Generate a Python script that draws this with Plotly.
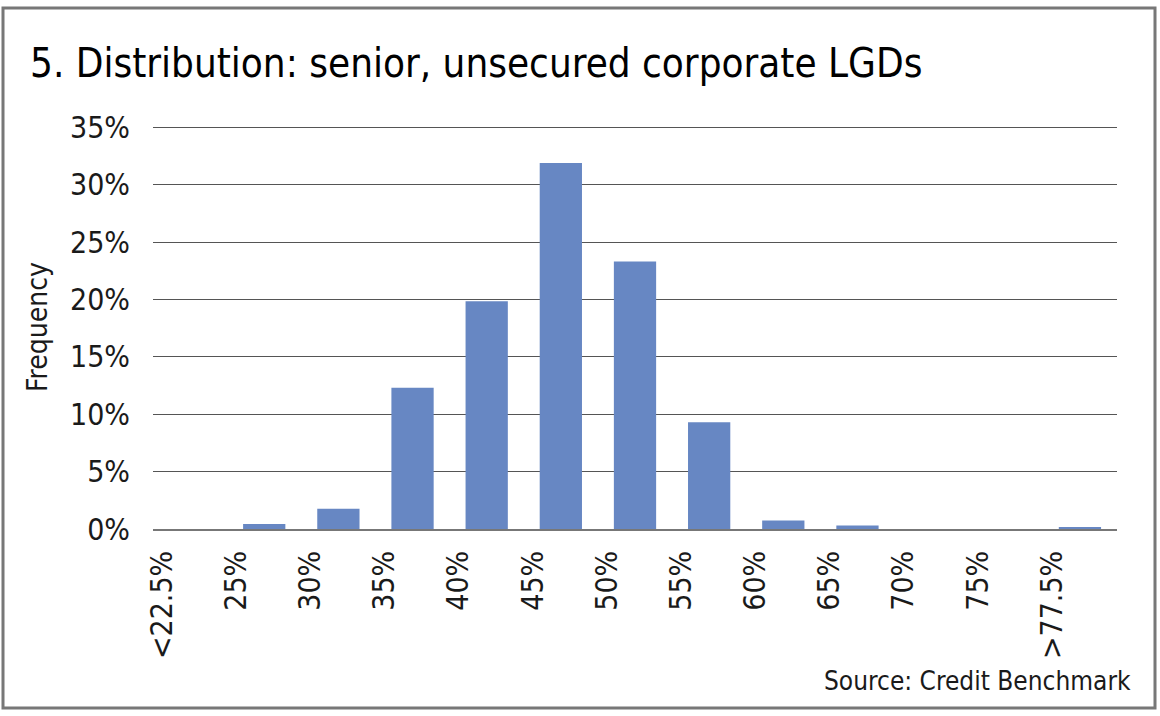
import plotly.graph_objects as go

categories = ["<22.5%", "25%", "30%", "35%", "40%", "45%", "50%",
              "55%", "60%", "65%", "70%", "75%", ">77.5%"]
frequency = [0.0, 0.44, 1.77, 12.3, 19.85, 31.9, 23.3, 9.3, 0.75, 0.3, 0.0, 0.0, 0.15]
y_ticks = [0, 5, 10, 15, 20, 25, 30, 35]
y_tick_labels = [f"{v}%" for v in y_ticks]

FONT = "Liberation Sans Narrow, DejaVu Sans Condensed, Arial Narrow, sans-serif"
TXT = "#1a1a1a"

fig = go.Figure(go.Bar(
    x=categories, y=frequency,
    marker=dict(color="#6787C3", line=dict(width=0)),
    hoverinfo="x+y",
))

W, H = 1160, 716
L, R, T, B = 153, 43, 125, 187
pw, ph = W - L - R, H - T - B

fig.update_layout(
    width=W, height=H,
    margin=dict(l=L, r=R, t=T, b=B),
    paper_bgcolor="white", plot_bgcolor="white",
    bargap=0.43,
    showlegend=False,
    font=dict(family=FONT, color=TXT, size=30),
    title=dict(text="5. Distribution: senior, unsecured corporate LGDs",
               x=30 / W, xanchor="left", xref="container",
               y=1 - 63 / H, yanchor="middle", yref="container",
               font=dict(family=FONT, size=40, color="#000")),
    xaxis=dict(
        type="category", tickangle=-90, showgrid=False,
        showline=True, linecolor="#777", linewidth=1.5,
        ticks="", ticklabelstandoff=8, ticklabelshift=-28,
        tickfont=dict(family=FONT, size=30, color=TXT),
    ),
    yaxis=dict(
        range=[0, 35.2], tickvals=y_ticks, ticktext=y_tick_labels,
        showgrid=True, gridcolor="#555", gridwidth=1,
        zeroline=False, showline=False, ticks="",
        ticklabelstandoff=22,
        tickfont=dict(family=FONT, size=30, color=TXT),
        title=dict(text="Frequency", standoff=14,
                   font=dict(family=FONT, size=28, color=TXT)),
    ),
    annotations=[dict(
        text="Source: Credit Benchmark", showarrow=False,
        xref="paper", yref="paper",
        x=(1133 - L) / pw, xanchor="right",
        y=(H - B - 681) / ph, yanchor="middle",
        font=dict(family=FONT, size=26, color=TXT),
    )],
    shapes=[dict(
        type="rect", xref="paper", yref="paper",
        x0=(3 - L) / pw, x1=(1155 - L) / pw,
        y0=(H - B - 708) / ph, y1=(H - B - 8) / ph,
        line=dict(color="#777", width=3), fillcolor="rgba(0,0,0,0)",
        layer="below",
    )],
)

fig.write_html("out.html", config={"displayModeBar": False},
               post_script="document.body.style.margin='0';document.body.style.overflow='hidden';")
